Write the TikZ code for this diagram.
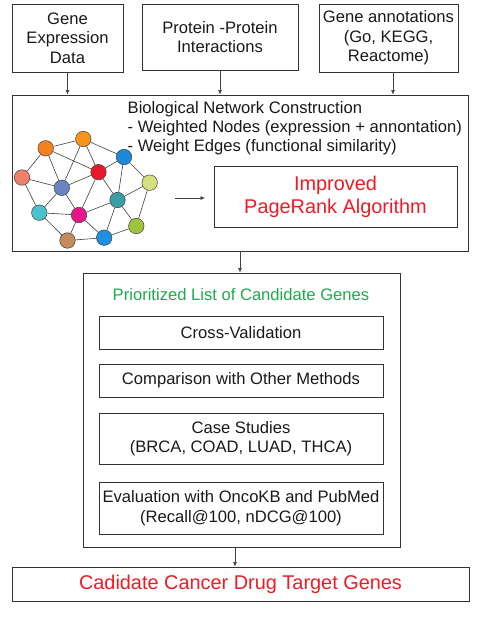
\documentclass[tikz,border=0pt]{standalone}
\usepackage{fontspec}
\setmainfont{Liberation Sans}
\usetikzlibrary{arrows.meta}
\definecolor{gorange}{HTML}{F58220}
\definecolor{gamber}{HTML}{F7941D}
\definecolor{gblue}{HTML}{1C8ADB}
\definecolor{gsalmon}{HTML}{F07F6A}
\definecolor{gred}{HTML}{E8192C}
\definecolor{gslate}{HTML}{6A84C4}
\definecolor{glime}{HTML}{D4E17E}
\definecolor{gteal}{HTML}{3A9EA6}
\definecolor{gcyan}{HTML}{4CC2CF}
\definecolor{gpink}{HTML}{E6168A}
\definecolor{gleaf}{HTML}{9CC53B}
\definecolor{gbrown}{HTML}{C68B5B}
\definecolor{gsky}{HTML}{1F8FE0}
\definecolor{hired}{HTML}{ED1C24}
\definecolor{higreen}{HTML}{1FA84F}
\tikzset{
  box/.style={draw=black!80, line width=.9pt, inner sep=0pt, align=center,
    text=black!90, font=\fontsize{16.6}{19.5}\selectfont},
  gene/.style={circle, draw=black!75, line width=.5pt, minimum size=15.5pt, inner sep=0pt},
  edge/.style={black!75, line width=.6pt},
  flow/.style={-{Latex[length=4.5pt,width=4pt]}, black!75, line width=.6pt}
}
\begin{document}
\begin{tikzpicture}[x=1pt,y=-1pt]
  \useasboundingbox (0,0) rectangle (483,623);
  % inputs
  \node[box, minimum width=111pt, minimum height=68pt] (gexp) at (67.5,38) {Gene\\Expression\\Data};
  \node[box, minimum width=156pt, minimum height=66pt] (ppi) at (220,37) {Protein -Protein\\Interactions};
  \node[box, minimum width=139pt, minimum height=68pt] (gann) at (388.5,38) {Gene annotations\\(Go, KEGG,\\Reactome)};
  % network construction
  \node[box, minimum width=456pt, minimum height=156pt] (net) at (240,173) {};
  \node[anchor=west, align=left, inner sep=0pt, text=black!90,
    font=\fontsize{16.6}{19}\selectfont] (nettxt) at (127.5,128)
    {Biological Network Construction\\- Weighted Nodes (expression + annontation)\\- Weight Edges (functional similarity)};
  \node[box, minimum width=243pt, minimum height=61pt, text=hired,
    font=\fontsize{19.9}{23}\selectfont] (prank) at (335.5,196.5) {Improved\\PageRank Algorithm};
  \foreach \n/\x/\y/\c in {
    o1/45.7/148.3/gorange, o2/83.3/139/gamber, b1/124/157/gblue,
    s/22/177.5/gsalmon, r/98.5/172.2/gred, m/61.8/187.8/gslate,
    l/149.7/182.7/glime, t/117.5/200/gteal, c/39.3/212.7/gcyan,
    p/79/215/gpink, y/136.3/226/gleaf, br/67.5/240.5/gbrown, b2/104.2/237.7/gsky}{
    \node[gene, fill=\c] (\n) at (\x,\y) {};
  }
  \foreach \a/\b in {
    o1/o2, o1/s, o1/m, o1/r, o2/m, o2/r, o2/b1, b1/r, b1/t, b1/l,
    s/m, s/c, m/r, m/c, m/p, r/p, r/t, l/t, l/y, t/p, t/y, t/b2,
    c/p, c/br, p/br, p/b2, br/b2, y/b2}{
    \draw[edge] (\a) -- (\b);
  }
  \coordinate (arrA) at (175,198);
  \coordinate (arrB) at (205,198);
  \draw[flow] (arrA) -- (arrB);
  % prioritized list
  \node[box, minimum width=317pt, minimum height=274pt] (plist) at (241.5,410) {};
  \node[text=higreen, font=\fontsize{16.6}{19}\selectfont] (ptitle) at (241,295) {Prioritized List of Candidate Genes};
  \node[box, minimum width=284pt, minimum height=33pt] (cv) at (241,332.5) {Cross-Validation};
  \node[box, minimum width=284pt, minimum height=33pt] (cmp) at (241,380.5) {Comparison with Other Methods};
  \node[box, minimum width=284pt, minimum height=51pt] (cs) at (241,438.5) {Case Studies\\(BRCA, COAD, LUAD, THCA)};
  \node[box, minimum width=284pt, minimum height=52pt] (ev) at (241,508) {Evaluation with OncoKB and PubMed\\(Recall@100, nDCG@100)};
  % result
  \node[box, minimum width=457pt, minimum height=34pt, text=hired,
    font=\fontsize{19.9}{23}\selectfont] (target) at (240.5,584) {Cadidate Cancer Drug Target Genes};
  % arrows
  \draw[flow] (gexp.south) -- (gexp.south |- net.north);
  \draw[flow] (ppi.south) -- (ppi.south |- net.north);
  \draw[flow] ([xshift=4.5pt]gann.south) -- ([xshift=4.5pt]gann.south |- net.north);
  \draw[flow] ([xshift=-1.5pt]plist.north |- net.south) -- ([xshift=-1.5pt]plist.north);
  \draw[flow] ([xshift=-6.5pt]plist.south) -- ([xshift=-6.5pt]plist.south |- target.north);
\end{tikzpicture}
\end{document}
